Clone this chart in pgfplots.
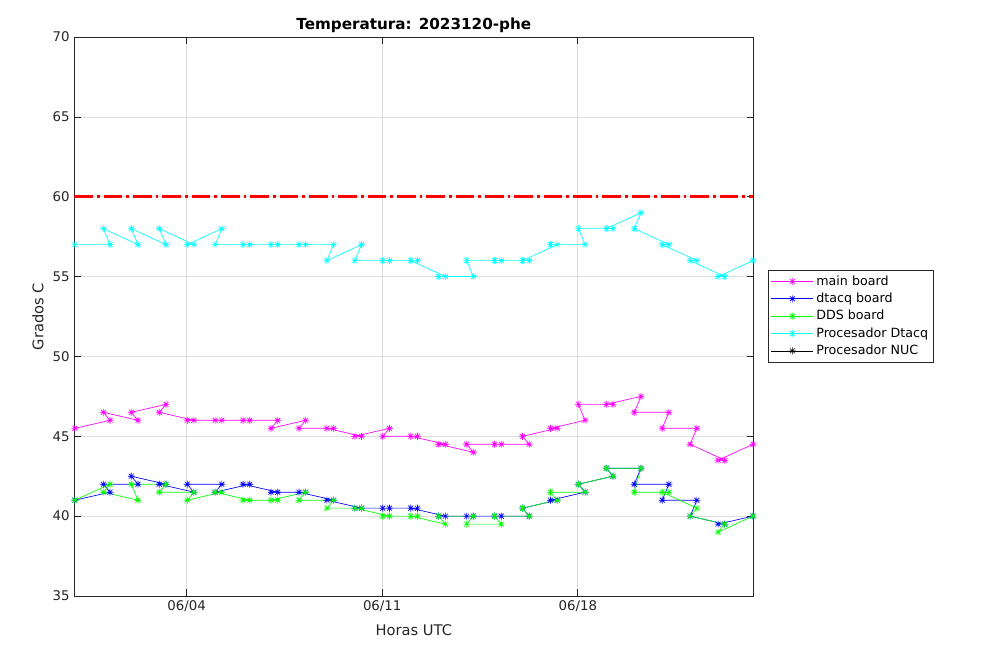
\documentclass[border=0pt]{standalone}
\usepackage{fontspec}
\setmainfont{DejaVu Sans}
\usepackage{pgfplots}
\pgfplotsset{compat=1.18}
\definecolor{axgray}{rgb}{0.15,0.15,0.15}
\definecolor{gridgray}{rgb}{0.87,0.87,0.87}
\definecolor{mmag}{rgb}{1,0,1}
\definecolor{mblue}{rgb}{0,0,1}
\definecolor{mgreen}{rgb}{0,1,0}
\definecolor{mcyan}{rgb}{0,1,1}
\pgfdeclareplotmark{star8}{%
  \pgfpathmoveto{\pgfqpoint{0pt}{\pgfplotmarksize}}%
  \pgfpathlineto{\pgfqpoint{0pt}{-\pgfplotmarksize}}%
  \pgfpathmoveto{\pgfqpoint{\pgfplotmarksize}{0pt}}%
  \pgfpathlineto{\pgfqpoint{-\pgfplotmarksize}{0pt}}%
  \pgfpathmoveto{\pgfqpoint{0.7071\pgfplotmarksize}{0.7071\pgfplotmarksize}}%
  \pgfpathlineto{\pgfqpoint{-0.7071\pgfplotmarksize}{-0.7071\pgfplotmarksize}}%
  \pgfpathmoveto{\pgfqpoint{-0.7071\pgfplotmarksize}{0.7071\pgfplotmarksize}}%
  \pgfpathlineto{\pgfqpoint{0.7071\pgfplotmarksize}{-0.7071\pgfplotmarksize}}%
  \pgfusepathqstroke
}
\begin{document}
\begin{tikzpicture}
\path[fill=white,use as bounding box] (0pt,0pt) rectangle (756pt,495.75pt);
\begin{axis}[
  at={(55.725pt,48.75pt)}, anchor=south west,
  scale only axis, width=509.25pt, height=419.25pt,
  xmin=-0.02, xmax=24.28, ymin=35, ymax=70,
  xtick={4,11,18}, xticklabels={06/04,06/11,06/18},
  ytick={35,40,...,70},
  grid=major, major grid style={gridgray, line width=0.5pt},
  tick align=inside, major tick length=5pt,
  axis line style={axgray, line width=0.5pt},
  tick style={axgray, line width=0.5pt},
  ticklabel style={font=\fontsize{10}{12}\selectfont, text=axgray},
  /pgf/number format/assume math mode=true,
  xlabel={Horas UTC}, ylabel={Grados C},
  label style={font=\fontsize{11}{13}\selectfont, text=axgray},
  xlabel style={at={(axis description cs:0.5,-0.0608)}, anchor=center},
  ylabel style={at={(axis description cs:-0.0535,0.5)}, anchor=center},
  title={Temperatura: 2023120-phe},
  title style={font=\bfseries\fontsize{11.4}{13}\selectfont, at={(axis description cs:0.5,1.0072)}, anchor=center},
  legend style={at={(axis description cs:1.0217,0.5832)}, anchor=north west,
    draw=axgray, line width=0.5pt, font=\fontsize{9.5}{11}\selectfont,
    row sep=0.3pt, inner sep=2pt, cells={anchor=west}},
  legend image code/.code={\draw[mark repeat=2,mark phase=2,#1] plot coordinates {(0pt,0pt)(15.75pt,0pt)(31.5pt,0pt)};},
  every axis plot/.append style={line width=0.5pt, mark=star8, mark size=2.6pt, mark options={solid, line width=0.5pt}},
]
\addplot[mmag] coordinates {
(0,45.5)
(1.26,46)(1.02,46.5)
(2.26,46)(2.02,46.5)
(3.26,47)(3.02,46.5)
(4.26,46)(4.02,46)
(5.26,46)(5.02,46)
(6.26,46)(6.02,46)
(7.26,46)(7.02,45.5)
(8.26,46)(8.02,45.5)
(9.26,45.5)(9.02,45.5)
(10.26,45)(10.02,45)
(11.26,45.5)(11.02,45)
(12.26,45)(12.02,45)
(13.26,44.5)(13.02,44.5)
(14.26,44)(14.02,44.5)
(15.26,44.5)(15.02,44.5)
(16.26,44.5)(16.02,45)
(17.26,45.5)(17.02,45.5)
(18.26,46)(18.02,47)
(19.26,47)(19.02,47)
(20.26,47.5)(20.02,46.5)
(21.26,46.5)(21.02,45.5)
(22.26,45.5)(22.02,44.5)
(23.26,43.5)(23.02,43.5)
(24.27,44.5)
};
\addlegendentry{main board}
\addplot[mblue] coordinates {
(0,41)
(1.26,41.5)(1.02,42)
(2.26,42)(2.02,42.5)
(3.26,42)(3.02,42)
(4.26,41.5)(4.02,42)
(5.26,42)(5.02,41.5)
(6.26,42)(6.02,42)
(7.26,41.5)(7.02,41.5)
(8.26,41.5)(8.02,41.5)
(9.26,41)(9.02,41)
(10.26,40.5)(10.02,40.5)
(11.26,40.5)(11.02,40.5)
(12.26,40.5)(12.02,40.5)
(13.26,40)(13.02,40)
(14.26,40)(14.02,40)
(15.26,40)(15.02,40)
(16.26,40)(16.02,40.5)
(17.26,41)(17.02,41)
(18.26,41.5)(18.02,42)
(19.26,42.5)(19.02,43)
(20.26,43)(20.02,42)
(21.26,42)(21.02,41)
(22.26,41)(22.02,40)
(23.26,39.5)(23.02,39.5)
(24.27,40)
};
\addlegendentry{dtacq board}
\addplot[mgreen] coordinates {
(0,41)
(1.26,42)(1.02,41.5)
(2.26,41)(2.02,42)
(3.26,42)(3.02,41.5)
(4.26,41.5)(4.02,41)
(5.26,41.5)(5.02,41.5)
(6.26,41)(6.02,41)
(7.26,41)(7.02,41)
(8.26,41.5)(8.02,41)
(9.26,41)(9.02,40.5)
(10.26,40.5)(10.02,40.5)
(11.26,40)(11.02,40)
(12.26,40)(12.02,40)
(13.26,39.5)(13.02,40)
(14.26,40)(14.02,39.5)
(15.26,39.5)(15.02,40)
(16.26,40)(16.02,40.5)
(17.26,41)(17.02,41.5)
(18.26,41.5)(18.02,42)
(19.26,42.5)(19.02,43)
(20.26,43)(20.02,41.5)
(21.26,41.5)(21.02,41.5)
(22.26,40.5)(22.02,40)
(23.26,39.5)(23.02,39)
(24.27,40)
};
\addlegendentry{DDS board}
\addplot[mcyan] coordinates {
(0,57)
(1.26,57)(1.02,58)
(2.26,57)(2.02,58)
(3.26,57)(3.02,58)
(4.26,57)(4.02,57)
(5.26,58)(5.02,57)
(6.26,57)(6.02,57)
(7.26,57)(7.02,57)
(8.26,57)(8.02,57)
(9.26,57)(9.02,56)
(10.26,57)(10.02,56)
(11.26,56)(11.02,56)
(12.26,56)(12.02,56)
(13.26,55)(13.02,55)
(14.26,55)(14.02,56)
(15.26,56)(15.02,56)
(16.26,56)(16.02,56)
(17.26,57)(17.02,57)
(18.26,57)(18.02,58)
(19.26,58)(19.02,58)
(20.26,59)(20.02,58)
(21.26,57)(21.02,57)
(22.26,56)(22.02,56)
(23.26,55)(23.02,55)
(24.27,56)
};
\addlegendentry{Procesador Dtacq}
\addlegendimage{black, line width=0.5pt, mark=star8, mark size=2.6pt, mark options={solid, line width=0.5pt}}
\addlegendentry{Procesador NUC}
\addplot[forget plot, red, line width=2pt, no marks, dash pattern=on 14pt off 3pt on 2pt off 3pt] coordinates {(-0.02,60)(24.28,60)};
\end{axis}
\end{tikzpicture}
\end{document}
